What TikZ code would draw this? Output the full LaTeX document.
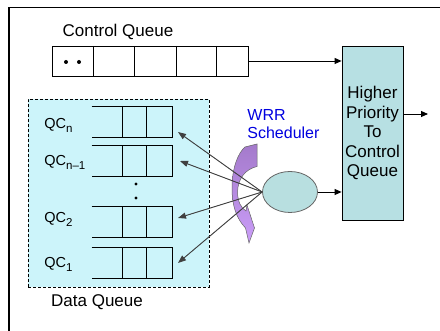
\documentclass[tikz,border=0pt]{standalone}
\usepackage{fontspec}
\setmainfont{Liberation Sans}
\usetikzlibrary{arrows.meta,shapes.geometric,calc}
\definecolor{boxfill}{HTML}{B7E0E3}
\definecolor{dqfill}{HTML}{CCF4FA}
\definecolor{ellfill}{HTML}{B8DFE0}
\definecolor{purpdark}{HTML}{A47ACB}
\definecolor{purplight}{HTML}{CA9DF8}
\definecolor{arrgray}{HTML}{404040}
\definecolor{wrrblue}{HTML}{0000E0}
\begin{document}
\begin{tikzpicture}[x=1pt,y=-1pt,
  font=\fontsize{17}{19.5}\selectfont,
  line width=0.8pt,
  arr/.style={-{Triangle[length=7pt,width=6pt]}, line width=0.9pt},
  garr/.style={-{Triangle[length=8pt,width=6pt]}, draw=arrgray, fill=black, line width=0.9pt},
  qbox/.style={minimum width=80pt, minimum height=30pt, inner sep=0pt},
  qlab/.style={anchor=base west, inner sep=0pt, font=\fontsize{14.5}{16}\selectfont}
]
\useasboundingbox (0,0) rectangle (440,331);
\fill[white] (0,0) rectangle (440,331);
% frame
\draw[line width=1.5pt] (440,7.5) -- (9,7.5) -- (9,331);

% control queue
\node (cql) at (118,32) {Control Queue};
\node[draw, minimum width=196pt, minimum height=30pt, inner sep=0pt] (cq) at (150,61) {};
\foreach \x in {93,134,176,216} \draw (\x,46) -- (\x,76);
\fill (66,62) circle (2pt) (79,62) circle (2pt);

% higher priority box
\node[draw, fill=boxfill, minimum width=61pt, minimum height=174pt, inner sep=0pt, align=center] (hp) at (372.5,133) {Higher\\Priority\\To\\Control\\Queue};
\draw[arr] (cq.east) -- (cq.east -| hp.west);
\coordinate (out) at (428,114);
\draw[arr] (hp.east |- out) -- (out);

% data queue area
\node[draw, dashed, dash pattern=on 3pt off 2pt, fill=dqfill, minimum width=181pt, minimum height=188pt, inner sep=0pt] (dq) at (118.5,193) {};
\node (dql) at (97,302) {Data Queue};
\node[qbox] (qn) at (132,122) {};
\node[qbox] (qn1) at (132,161) {};
\node[qbox] (q2) at (132,222) {};
\node[qbox] (q1) at (132,263) {};
\foreach \q in {qn,qn1,q2,q1} {
  \draw (\q.north west) -- (\q.north east) -- (\q.south east) -- (\q.south west);
  \draw ($(\q.north west)+(31,0)$) -- ($(\q.south west)+(31,0)$);
  \draw ($(\q.north west)+(55,0)$) -- ($(\q.south west)+(55,0)$);
}
\fill (136,184) circle (1.7pt) (136,198) circle (1.7pt);
\node[qlab] (lqn) at (44,128.5) {QC\raisebox{-4pt}{\fontsize{11.5}{12}\selectfont n}};
\node[qlab] (lqn1) at (44,166) {QC\raisebox{-4pt}{\fontsize{11.5}{12}\selectfont n–1}};
\node[qlab] (lq2) at (44,223) {QC\raisebox{-4pt}{\fontsize{11.5}{12}\selectfont 2}};
\node[qlab] (lq1) at (44,268) {QC\raisebox{-4pt}{\fontsize{11.5}{12}\selectfont 1}};

% WRR scheduler
\node[anchor=base west, inner sep=0pt, text=wrrblue, font=\fontsize{16}{18}\selectfont] (wrr) at (247,120.5) {WRR};
\node[anchor=base west, inner sep=0pt, text=wrrblue, font=\fontsize{16}{18}\selectfont] (sch) at (247,138.5) {Scheduler};

\shadedraw[top color=purpdark, bottom color=purplight, draw=black!60, line width=0.5pt]
  (245,147) -- (257,144) -- (257,166.5)
  .. controls (246,169) and (237.5,178) .. (237.5,193)
  .. controls (238,202) and (241,208) .. (246,211)
  -- (247,205) -- (254.5,228) -- (249,243) -- (245.5,228)
  .. controls (236,218) and (232,205) .. (232,188)
  .. controls (232,168) and (238,153) .. (245,147) -- cycle;

% scheduler ellipse
\node[ellipse, draw=black!60, fill=ellfill, minimum width=55pt, minimum height=41pt, inner sep=0pt] (ell) at (290,192) {};
\draw[arr] (ell.east) -- (ell.east -| hp.west);
\coordinate (tn) at (178,132);
\coordinate (tn1) at (180,161);
\coordinate (t2) at (178,218);
\coordinate (t1) at (178,263);
\foreach \t in {tn,tn1,t2,t1} \draw[garr] (ell.west) -- (\t);
\end{tikzpicture}
\end{document}
